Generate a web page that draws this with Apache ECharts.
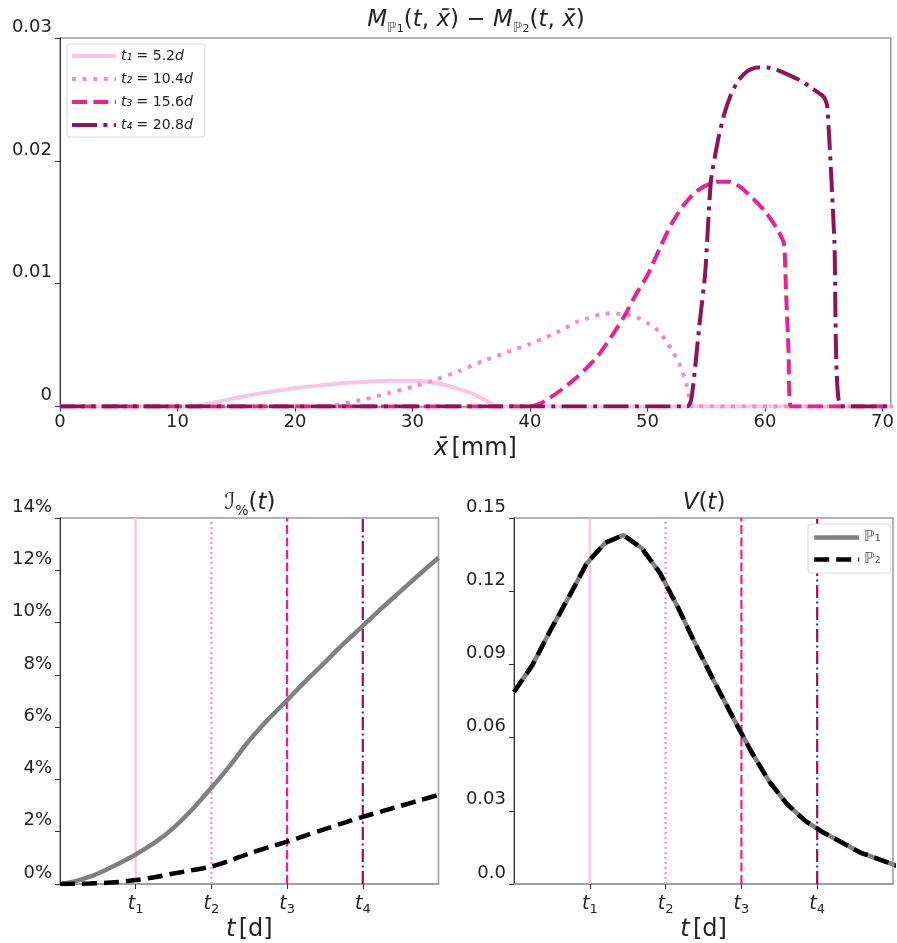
<!DOCTYPE html>
<html><head><meta charset="utf-8">
<script src="https://cdn.jsdelivr.net/npm/echarts@6/dist/echarts.min.js"></script>
<style>html,body{margin:0;padding:0;background:#fff}#c{width:897px;height:943px}</style>
</head><body><div id="c"></div>
<script>
// ---------- data ----------
const xTicksTop = [0, 10, 20, 30, 40, 50, 60, 70];
const seriesNamesTop = ['t1', 't2', 't3', 't4'];
const legendLabelsTop = ['5.2', '10.4', '15.6', '20.8'];

const t1X = [0, 11.5, 12, 13, 14, 16, 18, 20, 22, 24, 26, 28, 30, 31, 32, 33, 34, 35, 36, 36.8, 37.3, 71];
const t1Y = [0, 0, 0.0001, 0.0003, 0.0005, 0.0009, 0.0012, 0.0015, 0.0017, 0.0019, 0.0020, 0.0021, 0.0021, 0.00205, 0.0019, 0.0017, 0.0014, 0.0011, 0.0006, 0.0002, 0, 0];

const t2X = [0, 22.5, 24, 26, 28, 30, 32, 34, 36, 38, 40, 42, 43, 44, 45, 46, 47, 48, 49, 50, 51, 52, 52.7, 53.3, 53.6, 53.8, 71];
const t2Y = [0, 0, 0.0002, 0.0006, 0.0011, 0.0016, 0.0022, 0.0029, 0.0037, 0.0044, 0.0051, 0.0059, 0.0064, 0.0069, 0.0072, 0.0075, 0.0076, 0.0075, 0.0073, 0.0068, 0.0061, 0.0047, 0.0035, 0.0019, 0.0005, 0, 0];

const t3X = [0, 40, 41, 42, 43, 44, 45, 46, 47, 48, 49, 50, 51, 52, 53, 54, 55, 56, 57, 58, 59, 60, 61, 61.6, 61.8, 62.0, 62.2, 71];
const t3Y = [0, 0, 0.0003, 0.0009, 0.0016, 0.0024, 0.0033, 0.0044, 0.0058, 0.0073, 0.0091, 0.0107, 0.0128, 0.0148, 0.0163, 0.0174, 0.0180, 0.0183, 0.0183, 0.0178, 0.0169, 0.0159, 0.0145, 0.0133, 0.0090, 0.0045, 0, 0];

const t4X = [0, 53.4, 53.7, 54.0, 54.4, 54.9, 55.4, 56.0, 56.5, 57.1, 57.7, 58.5, 59.3, 60.2, 61.0, 62.0, 63.1, 64.0, 65.0, 65.3, 65.9, 66.45, 71];
const t4Y = [0, 0, 0.0005, 0.0027, 0.0065, 0.0108, 0.0184, 0.0217, 0.0237, 0.0254, 0.0265, 0.0273, 0.0276, 0.0276, 0.0274, 0.0270, 0.0265, 0.0259, 0.0252, 0.0244, 0.0135, 0, 0];

const tDays = [5.2, 10.4, 15.6, 20.8];
const tTickNames = ['1', '2', '3', '4'];

const tI = [0, 1, 2, 3, 4, 5.2, 6.5, 7.7, 9, 10.4, 11.7, 12.9, 14.3, 15.6, 16.9, 18.2, 19.5, 20.8, 22.1, 23.4, 24.7, 26];
const iP1 = [0, 0.1, 0.27, 0.5, 0.77, 1.13, 1.58, 2.1, 2.8, 3.68, 4.55, 5.42, 6.3, 7.03, 7.78, 8.48, 9.2, 9.87, 10.55, 11.2, 11.85, 12.48];
const iP2 = [0, 0.005, 0.02, 0.04, 0.08, 0.15, 0.26, 0.39, 0.52, 0.67, 0.9, 1.15, 1.4, 1.62, 1.86, 2.1, 2.34, 2.57, 2.78, 2.99, 3.2, 3.41];

const tV = [0, 1.25, 2.5, 3.75, 5, 6.25, 7.5, 8.75, 10, 11.25, 12.5, 13.75, 15, 16.25, 17.5, 18.75, 20, 21.25, 22.5, 23.75, 25, 26.25];
const vP1 = [0.0787, 0.0896, 0.1040, 0.1175, 0.1315, 0.1398, 0.1430, 0.1377, 0.1276, 0.1133, 0.0977, 0.0828, 0.0685, 0.0545, 0.0421, 0.0326, 0.0258, 0.0210, 0.0170, 0.0129, 0.0102, 0.0075];
const vP2 = [0.0787, 0.0896, 0.1040, 0.1175, 0.1315, 0.1398, 0.1430, 0.1377, 0.1276, 0.1133, 0.0977, 0.0828, 0.0685, 0.0545, 0.0421, 0.0326, 0.0258, 0.0210, 0.0170, 0.0129, 0.0102, 0.0075];

// ---------- styles ----------
const FONT = 'DejaVu Sans';
const tColors = ['#f8c6df', '#ef8fc3', '#e6248b', '#8c1457'];
const tDash = ['solid', [4, 6.6], [15, 6.4], [25, 6.4, 4, 6.4]];
const vDash = ['solid', [2, 3], [9, 3.5], [13, 3.5, 2, 3.5]];
const pairs = (xs, ys) => xs.map((x, i) => [x, ys[i]]);

const chart = echarts.init(document.getElementById('c'), null, {renderer: 'canvas'});

const tickLbl = {fontFamily: FONT, fontSize: 18, color: '#222'};
const W = {fontWeight: 'normal'};
const richMath = {
  i: Object.assign({fontFamily: FONT, fontStyle: 'italic', fontSize: 23, lineHeight: 30, color: '#222'}, W),
  n: Object.assign({fontFamily: FONT, fontSize: 23, lineHeight: 30, color: '#222'}, W),
  s: Object.assign({fontFamily: FONT, fontSize: 14, lineHeight: 18, verticalAlign: 'bottom', color: '#666'}, W),
  ss: Object.assign({fontFamily: FONT, fontSize: 11, lineHeight: 14, verticalAlign: 'bottom', color: '#222'}, W),
  sp: Object.assign({fontFamily: FONT, fontSize: 14, lineHeight: 18, verticalAlign: 'bottom', color: '#222'}, W)
};
const tLabelRich = {
  i: {fontFamily: FONT, fontStyle: 'italic', fontSize: 19, lineHeight: 24, color: '#222'},
  s: {fontFamily: FONT, fontSize: 13, lineHeight: 14, verticalAlign: 'bottom', color: '#222'}
};
const nameRich = {
  i: {fontFamily: FONT, fontStyle: 'italic', fontSize: 24, lineHeight: 30, color: '#222'},
  n: {fontFamily: FONT, fontSize: 24, lineHeight: 30, color: '#222'}
};

function yAxisCfg(grid, max, interval, fmt) {
  return {
    type: 'value', gridIndex: grid, min: 0, max: max, interval: interval,
    axisLine: {show: true, lineStyle: {color: '#333', width: 1}},
    axisTick: {show: true, length: 5, lineStyle: {color: '#333'}},
    splitLine: {show: false},
    axisLabel: Object.assign({formatter: fmt, margin: 8, verticalAlign: 'bottom', lineHeight: 18, padding: [0, 0, 2, 0]}, tickLbl)
  };
}
function tAxisCfg(grid) {
  return {
    type: 'value', gridIndex: grid, min: 0, max: 26, interval: 5.2,
    axisLine: {show: true, lineStyle: {color: '#999', width: 1.5}},
    axisTick: {show: true, length: 5, customValues: tDays, lineStyle: {color: '#333'}},
    splitLine: {show: false},
    axisLabel: {customValues: tDays, margin: 8, rich: tLabelRich,
      formatter: v => { const k = tDays.findIndex(d => Math.abs(d - v) < 1e-6); return k < 0 ? '' : '{i|t}{s|' + tTickNames[k] + '}'; }},
    name: '{i|t} {n|[d]}', nameLocation: 'middle', nameGap: 31,
    nameTextStyle: {rich: nameRich}
  };
}

const series = [];
// top chart
seriesNamesTop.forEach((nm, k) => {
  const xs = [t1X, t2X, t3X, t4X][k], ys = [t1Y, t2Y, t3Y, t4Y][k];
  series.push({
    name: nm, type: 'line', xAxisIndex: 0, yAxisIndex: 0, symbol: 'none', animation: false,
    smooth: 0.2,
    data: pairs(xs, ys),
    lineStyle: {color: tColors[k], width: 4, type: tDash[k]},
    itemStyle: {color: tColors[k]}, z: 3 + k
  });
});
// vertical lines in bottom charts
[[1, 14], [2, 0.15]].forEach(([ax, top]) => {
  tDays.forEach((d, k) => {
    series.push({
      name: 'v' + ax + '_' + k, type: 'line', xAxisIndex: ax, yAxisIndex: ax, symbol: 'none', animation: false,
      data: [[d, 0], [d, top]],
      lineStyle: {color: tColors[k], width: 2.2, type: vDash[k]}, z: 2, silent: true
    });
  });
});
// bottom-left
series.push({name: 'ℙ₁', type: 'line', xAxisIndex: 1, yAxisIndex: 1, symbol: 'none', animation: false,
  smooth: 0.3,
  data: pairs(tI, iP1), lineStyle: {color: '#808080', width: 4.5}, itemStyle: {color: '#808080'}, z: 4});
series.push({name: 'ℙ₂', type: 'line', xAxisIndex: 1, yAxisIndex: 1, symbol: 'none', animation: false,
  smooth: 0.3,
  data: pairs(tI, iP2), lineStyle: {color: '#000', width: 4.5, type: [15, 7]}, itemStyle: {color: '#000'}, z: 5});
// bottom-right
series.push({name: 'ℙ₁', type: 'line', xAxisIndex: 2, yAxisIndex: 2, symbol: 'none', animation: false,
  data: pairs(tV, vP1), lineStyle: {color: '#808080', width: 4.5}, itemStyle: {color: '#808080'}, z: 4});
series.push({name: 'ℙ₂', type: 'line', xAxisIndex: 2, yAxisIndex: 2, symbol: 'none', animation: false,
  data: pairs(tV, vP2), lineStyle: {color: '#000', width: 4.5, type: [15, 7]}, itemStyle: {color: '#000'}, z: 5});

const titleTS = {fontWeight: 'normal', rich: richMath};
const option = {
  backgroundColor: '#fff',
  animation: false,
  title: [
    {text: '{i|M}{s|ℙ}{ss|1}{n|(}{i|t}{n|, }{i|x̄}{n|) − }{i|M}{s|ℙ}{ss|2}{n|(}{i|t}{n|, }{i|x̄}{n|)}',
     left: 476, top: 5, textAlign: 'center', padding: 0, textStyle: titleTS},
    {text: '{i|ℐ}{sp|%}{n|(}{i|t}{n|)}', left: 250, top: 488, textAlign: 'center', padding: 0, textStyle: titleTS},
    {text: '{i|V}{n|(}{i|t}{n|)}', left: 704, top: 488, textAlign: 'center', padding: 0, textStyle: titleTS}
  ],
  legend: [
    {data: seriesNamesTop, orient: 'vertical', left: 67, top: 44, itemWidth: 44, itemHeight: 14, itemGap: 9,
     padding: [5, 12, 5, 3], backgroundColor: '#fff', borderColor: '#d8d8d8', borderWidth: 1, borderRadius: 3,
     itemStyle: {opacity: 0}, lineStyle: {width: 4}, selectedMode: false,
     formatter: name => { const k = seriesNamesTop.indexOf(name); return '{i|t' + ['₁','₂','₃','₄'][k] + '}{n| = ' + legendLabelsTop[k] + '}{i|d}'; },
     textStyle: {fontFamily: FONT, fontSize: 14, color: '#222',
       rich: {i: {fontFamily: FONT, fontStyle: 'italic', fontSize: 14, color: '#222'}, n: {fontFamily: FONT, fontSize: 14, color: '#222'}}}},
    {data: ['ℙ₁', 'ℙ₂'], orient: 'vertical', left: 808, top: 524, itemWidth: 45, itemHeight: 14, itemGap: 7,
     padding: [6, 10, 6, 4], backgroundColor: '#fff', borderColor: '#d8d8d8', borderWidth: 1, borderRadius: 3,
     itemStyle: {opacity: 0}, lineStyle: {width: 4.5}, selectedMode: false,
     textStyle: {fontFamily: FONT, fontSize: 15, color: '#555'}}
  ],
  grid: [
    {left: 60, top: 38, width: 833, height: 368.5, show: true, borderColor: '#999', borderWidth: 1.5, backgroundColor: 'transparent'},
    {left: 60, top: 518, width: 378.5, height: 369, show: true, borderColor: '#999', borderWidth: 1.5, backgroundColor: 'transparent'},
    {left: 514, top: 518, width: 379, height: 369, show: true, borderColor: '#999', borderWidth: 1.5, backgroundColor: 'transparent'}
  ],
  xAxis: [
    {type: 'value', gridIndex: 0, min: 0, max: 70.7, interval: 10,
     axisLine: {show: true, lineStyle: {color: '#999', width: 1.5}},
     axisTick: {show: true, length: 5, customValues: xTicksTop, lineStyle: {color: '#333'}},
     splitLine: {show: false},
     axisLabel: Object.assign({customValues: xTicksTop, margin: 7}, tickLbl),
     name: '{i|x̄} {n|[mm]}', nameLocation: 'middle', nameGap: 27, nameTextStyle: {rich: nameRich}},
    tAxisCfg(1), tAxisCfg(2)
  ],
  yAxis: [
    yAxisCfg(0, 0.03, 0.01, v => v === 0 ? '0' : v.toFixed(2)),
    yAxisCfg(1, 14, 2, v => Math.round(v) + '%'),
    yAxisCfg(2, 0.15, 0.03, v => v === 0 ? '0.0' : v.toFixed(2))
  ],
  series: series
};
chart.setOption(option);
</script>
</body></html>
